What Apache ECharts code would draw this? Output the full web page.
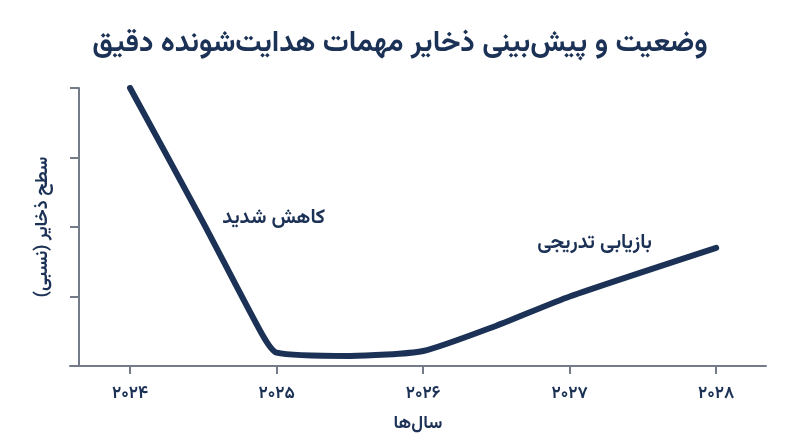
<!DOCTYPE html>
<html lang="fa">
<head>
    <meta charset="UTF-8">
    <title>ذخایر مهمات</title>
    <script src="https://cdn.jsdelivr.net/npm/echarts@6/dist/echarts.min.js"></script>
    <style>
        html, body { margin: 0; padding: 0; background: #fff; }
        #chart { width: 800px; height: 447px; }
    </style>
</head>
<body>
<div id="chart"></div>
<script>
    // سال‌ها و سطح نسبی ذخایر (خوانده شده از تصویر)
    var years = [2024, 2024.5, 2024.9, 2025, 2025.5, 2026, 2026.5, 2027, 2028];
    var levels = [100, 51.5, 11.5, 4.8, 3.6, 5.4, 14.5, 25, 42.5];
    var tickYears = [2024, 2025, 2026, 2027, 2028];
    var tickLabels = ['۲۰۲۴', '۲۰۲۵', '۲۰۲۶', '۲۰۲۷', '۲۰۲۸'];

    // یادداشت‌های روی نمودار
    var noteText = ['کاهش شدید', 'بازیابی تدریجی'];
    var noteX = [2024.98, 2027.17];
    var noteY = [52.5, 43.5];

    var navy = '#1b3155';
    var axisGrey = '#737b88';
    var font = 'Vazirmatn, "DejaVu Sans", sans-serif';

    var points = years.map(function (y, i) { return [y, levels[i]]; });
    var notes = noteText.map(function (t, i) {
        return { coord: [noteX[i], noteY[i]], value: t };
    });

    var option = {
        title: {
            text: 'وضعیت و پیش‌بینی ذخایر مهمات هدایت‌شونده دقیق',
            left: 'center',
            top: 27,
            textStyle: {
                color: navy,
                fontFamily: font,
                fontSize: 29,
                fontWeight: 'bold'
            }
        },
        grid: {
            left: 70,
            right: 34,
            top: 88,
            bottom: 81
        },
        xAxis: {
            type: 'value',
            min: 2023.59,
            max: 2028.34,
            name: 'سال‌ها',
            nameLocation: 'middle',
            nameGap: 50,
            nameTextStyle: { color: navy, fontFamily: font, fontSize: 18, fontWeight: 'bold' },
            axisLine: { lineStyle: { color: axisGrey, width: 2 } },
            axisTick: {
                show: true,
                length: 8,
                customValues: tickYears,
                lineStyle: { color: axisGrey, width: 2 }
            },
            axisLabel: {
                customValues: tickYears,
                margin: 21,
                color: navy,
                fontFamily: font,
                fontSize: 17,
                fontWeight: 'bold',
                formatter: function (v) {
                    var i = tickYears.indexOf(Math.round(v));
                    return i >= 0 ? tickLabels[i] : '';
                }
            },
            splitLine: { show: false }
        },
        yAxis: {
            type: 'value',
            min: 0,
            max: 100,
            interval: 25,
            offset: -9,
            name: 'سطح ذخایر (نسبی)',
            nameLocation: 'middle',
            nameGap: 26,
            nameTextStyle: { color: navy, fontFamily: font, fontSize: 18, fontWeight: 'bold' },
            axisLine: { show: true, lineStyle: { color: axisGrey, width: 2 } },
            axisTick: { show: true, length: 9, lineStyle: { color: axisGrey, width: 2 } },
            axisLabel: { show: false },
            splitLine: { show: false }
        },
        series: [
            {
                type: 'line',
                data: points,
                smooth: 0.2,
                symbol: 'none',
                lineStyle: { color: navy, width: 6, cap: 'round', join: 'round' },
                markPoint: {
                    symbol: 'circle',
                    symbolSize: 0,
                    silent: true,
                    label: {
                        show: true,
                        position: 'inside',
                        color: navy,
                        fontFamily: font,
                        fontSize: 20,
                        fontWeight: 'bold',
                        formatter: function (p) { return p.value; }
                    },
                    data: notes
                }
            }
        ]
    };

    var myChart = echarts.init(document.getElementById('chart'));
    myChart.setOption(option);
</script>
</body>
</html>
